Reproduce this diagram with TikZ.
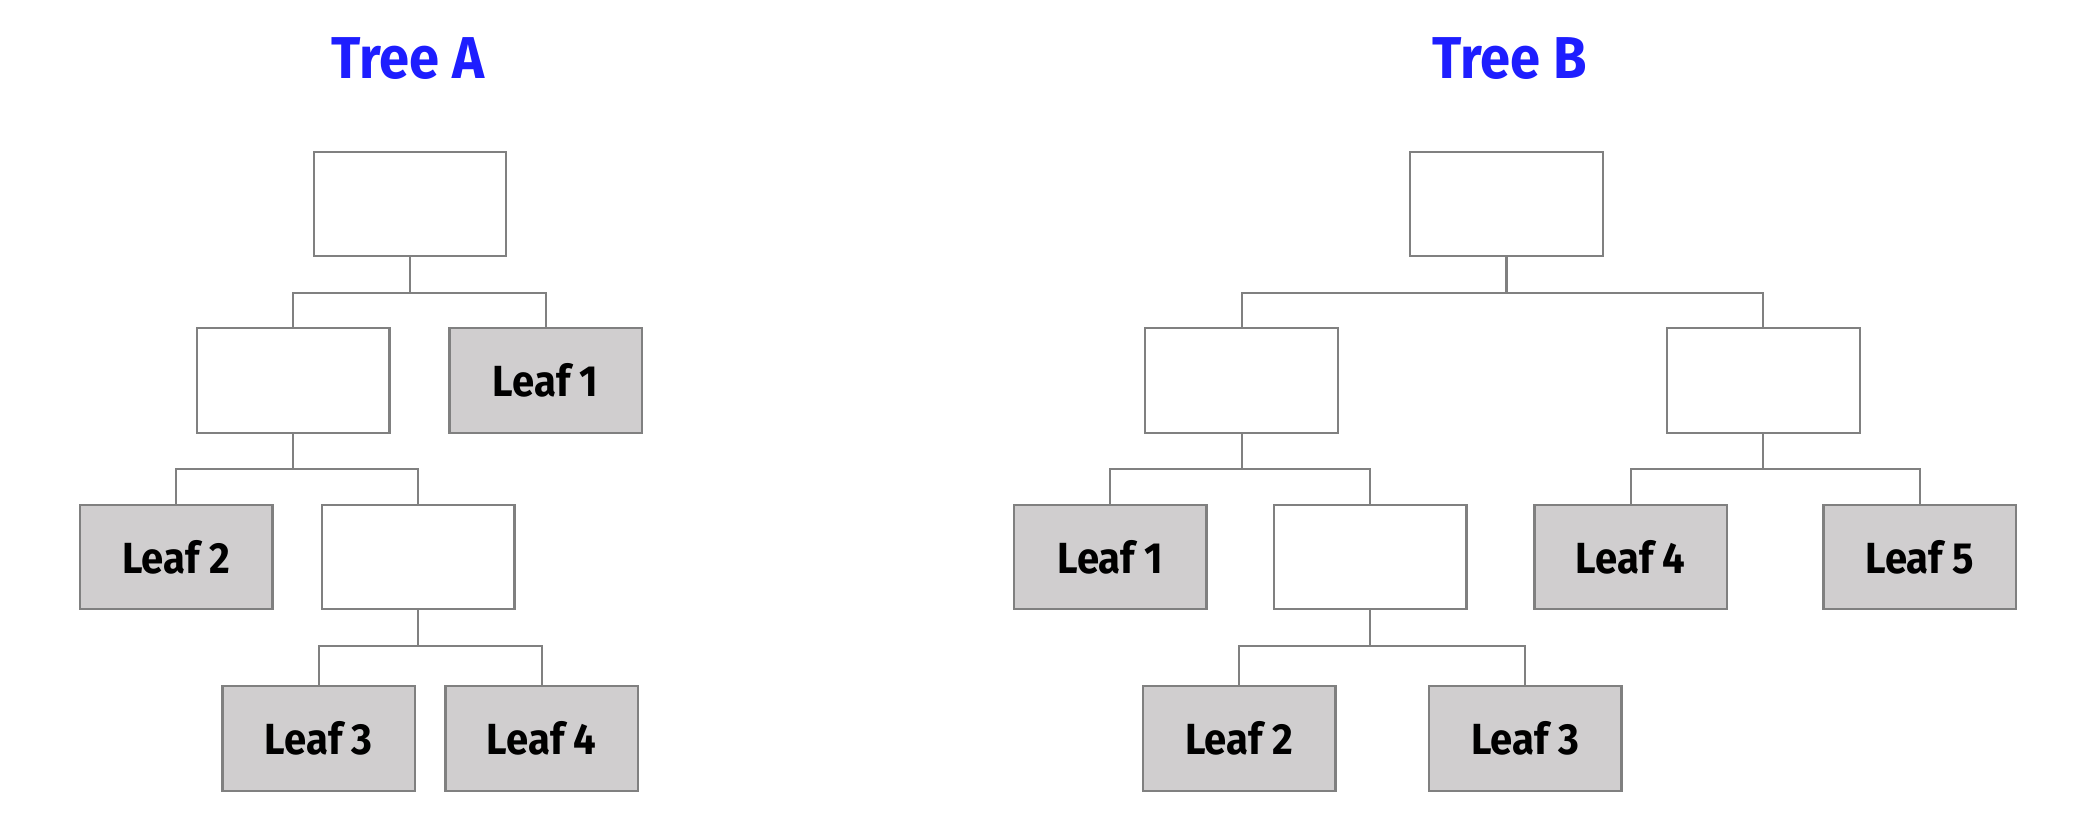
\documentclass[tikz,border=0pt]{standalone}
\usepackage{fontspec}
\usepackage{xcolor}
\usepackage{tikz}
\newfontfamily\treefont[FakeStretch=0.92]{Fira Sans}
\definecolor{treeblue}{RGB}{30,30,255}
\definecolor{boxgray}{RGB}{128,128,128}
\definecolor{leafgray}{RGB}{208,206,207}

\begin{document}
\begin{tikzpicture}[level distance=1.765cm,level 3/.style={level distance=1.815cm},
      every node/.style={shape=rectangle,draw=boxgray,line width=0.6pt,minimum width=1.925cm,minimum height=1.045cm,inner sep=0pt,font=\treefont\bfseries\fontsize{12.4}{14}\selectfont},
      branch/.style={fill=white},leaf/.style={fill=leafgray},
      heading/.style={draw=none,minimum width=0pt,minimum height=0pt,anchor=base,text=treeblue,font=\treefont\bfseries\fontsize{16.8}{19}\selectfont},
      edge from parent/.style={draw=boxgray,line width=0.6pt},
      edge from parent path={(\tikzparentnode.south) -- ++(0,-0.355) -| (\tikzchildnode.north)}]
      \useasboundingbox (0,0) rectangle (20.79,-8.38);
      \node[heading] (ta) at (4.083,-0.783) {Tree A};
      \node[heading] (tb) at (15.095,-0.79) {Tree B};
      \node[branch] (a0) at (4.10,-2.04) {}
        child[sibling distance=2.525cm,xshift=0.095cm]{node[branch] (a1) {}
                child[sibling distance=2.42cm,xshift=0.04cm]{node[leaf] (a11) {Leaf 2}}
                child[sibling distance=2.42cm,xshift=0.04cm]{node[branch] (a12) {}
                        child[sibling distance=2.23cm,xshift=0.12cm]{node[leaf] (a121) {Leaf 3}}
                        child[sibling distance=2.23cm,xshift=0.12cm]{node[leaf] (a122) {Leaf 4}}}}
        child[sibling distance=2.525cm,xshift=0.095cm]{node[leaf] (a2) {Leaf 1}};
      \node[branch] (b0) at (15.065,-2.04) {}
        child[sibling distance=5.217cm,xshift=-0.04cm]{node[branch] (b1) {}
                child[sibling distance=2.60cm,xshift=-0.014cm]{node[leaf] (b11) {Leaf 1}}
                child[sibling distance=2.60cm,xshift=-0.014cm]{node[branch] (b12) {}
                        child[sibling distance=2.86cm,xshift=0.12cm]{node[leaf] (b121) {Leaf 2}}
                        child[sibling distance=2.86cm,xshift=0.12cm]{node[leaf] (b122) {Leaf 3}}}}
        child[sibling distance=5.217cm,xshift=-0.04cm]{node[branch] (b2) {}
                child[sibling distance=2.89cm,xshift=0.119cm]{node[leaf] (b21) {Leaf 4}}
                child[sibling distance=2.89cm,xshift=0.119cm]{node[leaf] (b22) {Leaf 5}}};
\end{tikzpicture}
\end{document}
